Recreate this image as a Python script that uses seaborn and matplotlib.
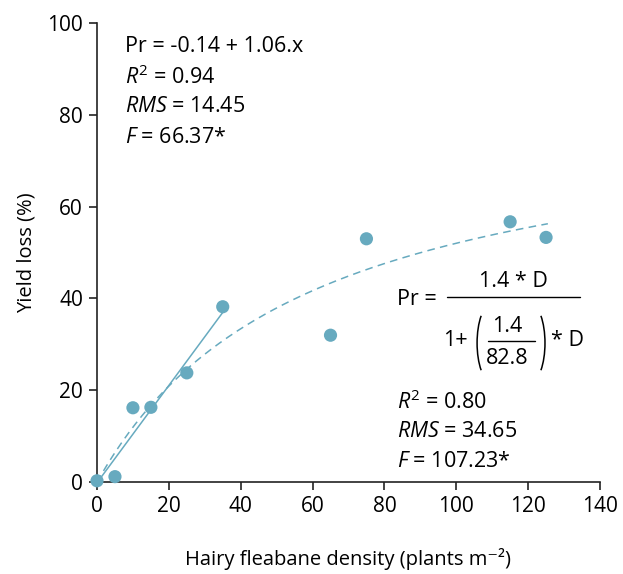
import numpy as np
import pandas as pd
import seaborn as sns
import matplotlib.pyplot as plt
from matplotlib.patches import Arc

# ─── DATA ─────────────────────────────────────────────
density    = [0, 5, 10, 15, 25, 35, 65, 75, 115, 125]
yield_loss = [0.3, 1.2, 16.2, 16.3, 23.8, 38.2, 32.0, 53.0, 56.7, 53.3]

# linear fit (first 6 points) and rectangular hyperbola
lin_a, lin_b = -0.14, 1.06
lin_xmax = 35.5
hyp_i, hyp_a = 1.4, 82.8
hyp_xmax = 125.5

COLOR = "#67aabf"

sns.set_theme(style="ticks")
plt.rcParams['font.family'] = ['Open Sans', 'DejaVu Sans']
plt.rcParams['text.color'] = 'black'
plt.rcParams['axes.labelcolor'] = 'black'
plt.rcParams['xtick.color'] = 'black'
plt.rcParams['ytick.color'] = 'black'
plt.rcParams['mathtext.fontset'] = 'custom'
plt.rcParams['mathtext.rm'] = 'Open Sans'
plt.rcParams['mathtext.it'] = 'Open Sans:italic'

fig = plt.figure(figsize=(6.23, 5.74), dpi=100)
ax = fig.add_axes([0.1557, 0.160, 0.8073, 0.800])

df = pd.DataFrame({"D": density, "yl": yield_loss})
sns.scatterplot(data=df, x="D", y="yl", color=COLOR, s=90, edgecolor="none",
                ax=ax, zorder=3, clip_on=False)

# fitted models
xl = np.linspace(0, lin_xmax, 50)
ax.plot(xl, lin_a + lin_b * xl, color=COLOR, lw=1.1)
xh = np.linspace(0, hyp_xmax, 200)
ax.plot(xh, hyp_i * xh / (1 + (hyp_i / hyp_a) * xh), color=COLOR, lw=1.1,
        ls=(0, (5, 3.5)))

ax.set_xlim(0, 140)
ax.set_ylim(0, 100)
ax.set_xticks(range(0, 141, 20))
ax.set_yticks(range(0, 101, 20))
ax.tick_params(labelsize=15, length=6, width=1.2, color="#222", pad=4)
for s in ["left", "bottom"]:
    ax.spines[s].set_linewidth(1.2)
    ax.spines[s].set_color("#222")
sns.despine(ax=ax)
ax.set_xlabel("Hairy fleabane density (plants m\u207b\u00b2)", fontsize=14.5, labelpad=22)
ax.set_ylabel("Yield loss (%)", fontsize=14.5, labelpad=8)

fs = 15.5
# linear model text
for i, t in enumerate(["Pr = -0.14 + 1.06.x", r"$R^2$ = 0.94",
                       r"$RMS$ = 14.45", r"$F$ = 66.37*"]):
    ax.text(7.8, 94.8 - i * 6.55, t, fontsize=fs, va="center", ha="left")

# hyperbolic model text
ax.text(83.5, 39.8, "Pr =", fontsize=fs, va="center")
ax.plot([97.4, 134.4], [40.3, 40.3], color="black", lw=1, clip_on=False)
ax.text(115.8, 43.6, "1.4 * D", fontsize=fs, va="center", ha="center")
ax.text(96.3, 30.9, "1+", fontsize=fs, va="center", ha="left")
ax.add_patch(Arc((109.7, 30.3), 7.8, 16.8, theta1=115, theta2=245, color="black", lw=1.1))
ax.add_patch(Arc((120.8, 30.3), 7.8, 16.8, theta1=-65, theta2=65, color="black", lw=1.1))
ax.text(114.1, 34.0, "1.4", fontsize=fs, va="center", ha="center")
ax.plot([108.8, 121.9], [30.7, 30.7], color="black", lw=1, clip_on=False)
ax.text(114.1, 27.0, "82.8", fontsize=fs, va="center", ha="center")
ax.text(126.4, 30.9, "* D", fontsize=fs, va="center", ha="left")

for i, t in enumerate([r"$R^2$ = 0.80", r"$RMS$ = 34.65", r"$F$ = 107.23*"]):
    ax.text(83.5, 17.4 - i * 6.4, t, fontsize=fs, va="center", ha="left")

fig.savefig("out.png", dpi=100)
